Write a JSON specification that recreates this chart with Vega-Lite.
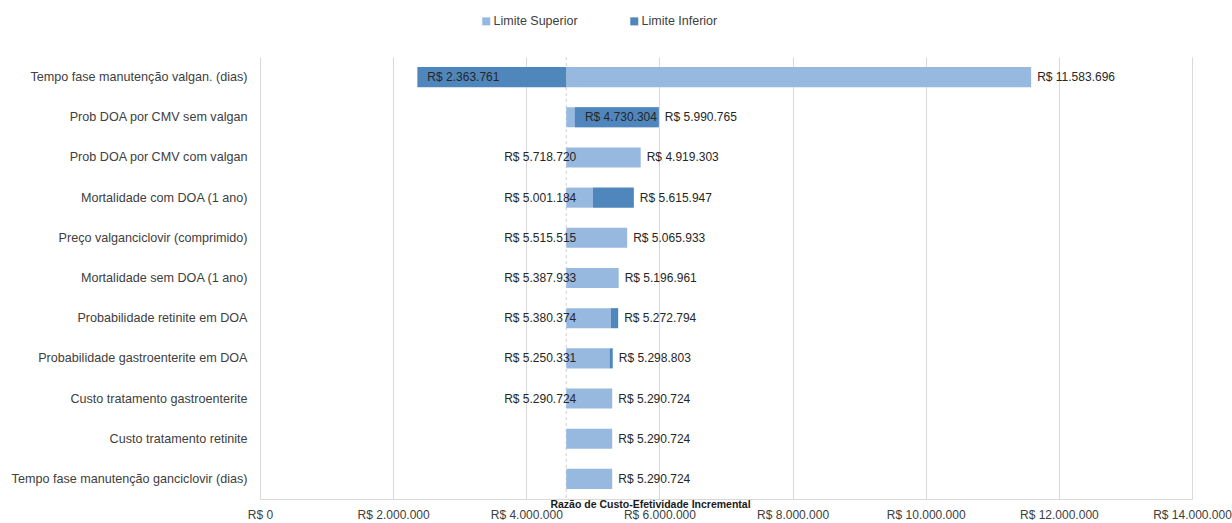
{
  "$schema": "https://vega.github.io/schema/vega-lite/v6.json",
  "width": 932,
  "height": 442,
  "autosize": {"type": "none"},
  "padding": {"left": 260, "top": 57, "right": 40, "bottom": 24},
  "background": "white",
  "config": {
    "locale": {"number": {"decimal": ",", "thousands": ".", "grouping": [3], "currency": ["R$ ", ""]}},
    "font": "Liberation Sans",
    "view": {"stroke": null}
  },
  "data": {
    "values": [
      {"variavel": "Tempo fase manutenção valgan. (dias)", "base": 4600000, "superior": 11583696, "inf_ini": 2363761, "inf_fim": 4600000, "rot_esq": null, "rot_dir": 11583696, "rot_dentro": 2363761},
      {"variavel": "Prob DOA por CMV sem valgan", "base": 4600000, "superior": 5990765, "inf_ini": 4730304, "inf_fim": 5990765, "rot_esq": null, "rot_dir": 5990765, "rot_dentro": 4730304},
      {"variavel": "Prob DOA por CMV com valgan", "base": 4600000, "superior": 5718720, "inf_ini": null, "inf_fim": null, "rot_esq": 5718720, "rot_dir": 4919303, "rot_dentro": null},
      {"variavel": "Mortalidade com DOA (1 ano)", "base": 4600000, "superior": 5001184, "inf_ini": 5001184, "inf_fim": 5615947, "rot_esq": 5001184, "rot_dir": 5615947, "rot_dentro": null},
      {"variavel": "Preço valganciclovir (comprimido)", "base": 4600000, "superior": 5515515, "inf_ini": null, "inf_fim": null, "rot_esq": 5515515, "rot_dir": 5065933, "rot_dentro": null},
      {"variavel": "Mortalidade sem DOA (1 ano)", "base": 4600000, "superior": 5387933, "inf_ini": null, "inf_fim": null, "rot_esq": 5387933, "rot_dir": 5196961, "rot_dentro": null},
      {"variavel": "Probabilidade retinite em DOA", "base": 4600000, "superior": 5272794, "inf_ini": 5272794, "inf_fim": 5380374, "rot_esq": 5380374, "rot_dir": 5272794, "rot_dentro": null},
      {"variavel": "Probabilidade gastroenterite em DOA", "base": 4600000, "superior": 5250331, "inf_ini": 5250331, "inf_fim": 5298803, "rot_esq": 5250331, "rot_dir": 5298803, "rot_dentro": null},
      {"variavel": "Custo tratamento gastroenterite", "base": 4600000, "superior": 5290724, "inf_ini": null, "inf_fim": null, "rot_esq": 5290724, "rot_dir": 5290724, "rot_dentro": null},
      {"variavel": "Custo tratamento retinite", "base": 4600000, "superior": 5290724, "inf_ini": null, "inf_fim": null, "rot_esq": null, "rot_dir": 5290724, "rot_dentro": null},
      {"variavel": "Tempo fase manutenção ganciclovir (dias)", "base": 4600000, "superior": 5290724, "inf_ini": null, "inf_fim": null, "rot_esq": null, "rot_dir": 5290724, "rot_dentro": null}
    ]
  },
  "layer": [
    {
      "data": {"values": [{"base": 4600000}]},
      "mark": {"type": "rule", "strokeDash": [3, 3], "color": "#cfcfcf", "strokeWidth": 1},
      "encoding": {
        "x": {
          "field": "base", "type": "quantitative",
          "scale": {"domain": [0, 14000000], "nice": false},
          "axis": {
            "values": [0, 2000000, 4000000, 6000000, 8000000, 10000000, 12000000, 14000000],
            "format": "$,.0f",
            "title": "Razão de Custo-Efetividade Incremental",
            "titleFont": "Liberation Sans", "titleFontWeight": "bold", "titleFontSize": 10.5, "titleColor": "#1a1a1a",
            "titleX": 390, "titleY": 8, "titleAlign": "center", "titleBaseline": "alphabetic",
            "labelFont": "Liberation Sans", "labelFontSize": 12, "labelColor": "#404040",
            "labelPadding": 10, "ticks": false, "tickSize": 0,
            "grid": true, "gridColor": "#d9d9d9", "domainColor": "#d9d9d9",
            "labelFlush": false
          }
        }
      }
    },
    {
      "mark": {"type": "bar"},
      "encoding": {
        "y": {
          "field": "variavel", "type": "nominal", "sort": null,
          "scale": {"paddingInner": 0.5, "paddingOuter": 0.25},
          "axis": {"title": null, "domain": false, "ticks": false, "grid": false, "labelPadding": 13, "labelFont": "Liberation Sans", "labelFontSize": 12.6, "labelColor": "#404040", "labelLimit": 300}
        },
        "x": {"field": "base", "type": "quantitative"},
        "x2": {"field": "superior"},
        "color": {
          "datum": "Limite Superior",
          "scale": {"domain": ["Limite Superior", "Limite Inferior"], "range": ["#97B9E0", "#4F87BD"]},
          "legend": {
            "orient": "none", "legendX": 220, "legendY": -42, "direction": "horizontal", "title": null,
            "symbolType": "square", "symbolSize": 64, "symbolStrokeWidth": 0,
            "labelFont": "Liberation Sans", "labelFontSize": 12.5, "labelColor": "#404040",
            "columnPadding": 50, "labelOffset": 1
          }
        }
      }
    },
    {
      "transform": [{"filter": "isValid(datum.inf_ini)"}],
      "mark": {"type": "bar"},
      "encoding": {
        "y": {"field": "variavel", "type": "nominal", "sort": null},
        "x": {"field": "inf_ini", "type": "quantitative"},
        "x2": {"field": "inf_fim"},
        "color": {"datum": "Limite Inferior"}
      }
    },
    {
      "transform": [{"calculate": "max(datum.superior, isValid(datum.inf_fim) ? datum.inf_fim : 0)", "as": "fim_barra"}],
      "mark": {"type": "text", "align": "left", "baseline": "middle", "dx": 6, "fontSize": 12, "font": "Liberation Sans", "color": "#262626"},
      "encoding": {
        "y": {"field": "variavel", "type": "nominal", "sort": null},
        "x": {"field": "fim_barra", "type": "quantitative"},
        "text": {"field": "rot_dir", "type": "quantitative", "format": "$,.0f"}
      }
    },
    {
      "transform": [{"filter": "isValid(datum.rot_esq)"}],
      "mark": {"type": "text", "align": "right", "baseline": "middle", "dx": 10, "fontSize": 12, "font": "Liberation Sans", "color": "#262626"},
      "encoding": {
        "y": {"field": "variavel", "type": "nominal", "sort": null},
        "x": {"field": "base", "type": "quantitative"},
        "text": {"field": "rot_esq", "type": "quantitative", "format": "$,.0f"}
      }
    },
    {
      "transform": [{"filter": "isValid(datum.rot_dentro)"}],
      "mark": {"type": "text", "align": "left", "baseline": "middle", "dx": 10, "fontSize": 12, "font": "Liberation Sans", "color": "#262626"},
      "encoding": {
        "y": {"field": "variavel", "type": "nominal", "sort": null},
        "x": {"field": "inf_ini", "type": "quantitative"},
        "text": {"field": "rot_dentro", "type": "quantitative", "format": "$,.0f"}
      }
    }
  ]
}
